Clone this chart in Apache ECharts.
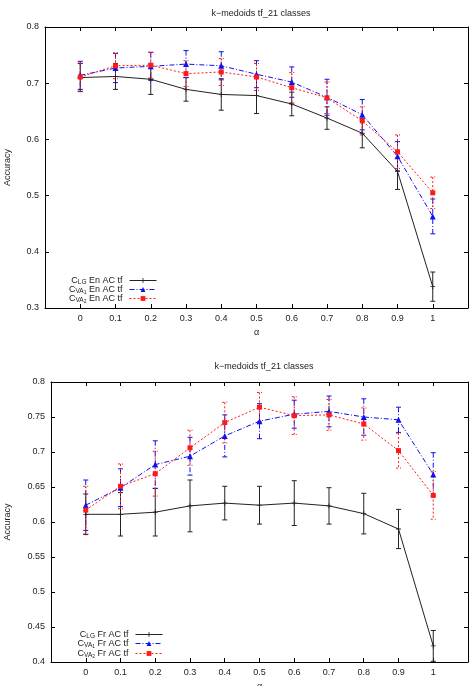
<!DOCTYPE html>
<html>
<head>
<meta charset="utf-8">
<script src="https://cdn.jsdelivr.net/npm/echarts@6/dist/echarts.min.js"></script>
<style>
  html, body { margin: 0; padding: 0; background: #fff; }
  #chart { width: 470px; height: 686px; }
</style>
</head>
<body>
<div id="chart"></div>
<script>
var alpha = [0, 0.1, 0.2, 0.3, 0.4, 0.5, 0.6, 0.7, 0.8, 0.9, 1];

// top chart (En)
var enClg = [0.710, 0.712, 0.707, 0.689, 0.680, 0.678, 0.663, 0.638, 0.611, 0.543, 0.338];
var enClgErr = [0.025, 0.023, 0.027, 0.021, 0.028, 0.032, 0.021, 0.020, 0.026, 0.032, 0.026];
var enVa1 = [0.714, 0.727, 0.730, 0.734, 0.731, 0.716, 0.702, 0.675, 0.644, 0.570, 0.463];
var enVa1Err = [0.025, 0.026, 0.025, 0.024, 0.025, 0.024, 0.027, 0.032, 0.027, 0.026, 0.031];
var enVa2 = [0.711, 0.731, 0.732, 0.717, 0.720, 0.711, 0.692, 0.674, 0.633, 0.578, 0.505];
var enVa2Err = [0.025, 0.023, 0.023, 0.023, 0.024, 0.024, 0.027, 0.028, 0.025, 0.030, 0.028];

// bottom chart (Fr)
var frClg = [0.611, 0.611, 0.614, 0.623, 0.627, 0.624, 0.627, 0.623, 0.612, 0.590, 0.423];
var frClgErr = [0.029, 0.031, 0.034, 0.037, 0.024, 0.027, 0.032, 0.026, 0.029, 0.028, 0.022];
var frVa1 = [0.624, 0.649, 0.682, 0.694, 0.723, 0.744, 0.754, 0.758, 0.750, 0.746, 0.668];
var frVa1Err = [0.036, 0.027, 0.034, 0.027, 0.030, 0.025, 0.020, 0.022, 0.026, 0.018, 0.031];
var frVa2 = [0.617, 0.651, 0.669, 0.706, 0.742, 0.764, 0.752, 0.753, 0.740, 0.702, 0.638];
var frVa2Err = [0.034, 0.032, 0.032, 0.025, 0.029, 0.021, 0.027, 0.022, 0.023, 0.025, 0.034];

var topTicks = [0.3, 0.8, 0.1];
var botTicks = [0.4, 0.8, 0.05];

var FONT = '"Liberation Sans", Arial, sans-serif';
var BLACK = '#222';
var BLUE = '#1010ee';
var RED = '#ff1a1a';
var dashDot = [5, 2, 1, 2];
var dotted = [2, 2];
var plusPath = 'path://M-0.5,-3 L0.5,-3 L0.5,3 L-0.5,3 Z M-3,-0.5 L3,-0.5 L3,0.5 L-3,0.5 Z';

var chart = echarts.init(document.getElementById('chart'), null, { renderer: 'canvas' });

function pairs(vals) {
  return alpha.map(function (a, i) { return [a, vals[i]]; });
}
function bars(vals, errs) {
  return alpha.map(function (a, i) { return [a, vals[i] - errs[i], vals[i] + errs[i]]; });
}

function errRender(color, dash) {
  return function (params, api) {
    var x = api.value(0);
    var lo = api.coord([x, api.value(1)]);
    var hi = api.coord([x, api.value(2)]);
    var st = { stroke: color, lineWidth: 1, lineDash: dash };
    var w = 2.5;
    return {
      type: 'group',
      children: [
        { type: 'line', shape: { x1: hi[0], y1: hi[1], x2: lo[0], y2: lo[1] }, style: st },
        { type: 'line', shape: { x1: hi[0] - w, y1: hi[1], x2: hi[0] + w, y2: hi[1] }, style: st },
        { type: 'line', shape: { x1: lo[0] - w, y1: lo[1], x2: lo[0] + w, y2: lo[1] }, style: st }
      ]
    };
  };
}

function xAxes(grid) {
  var base = {
    gridIndex: grid, type: 'value', min: -0.1, max: 1.1, interval: 0.1,
    axisLine: { show: true, onZero: false, lineStyle: { color: '#000', width: 1 } },
    axisTick: { inside: true, length: 4, lineStyle: { color: '#000' } },
    splitLine: { show: false }
  };
  return [
    Object.assign({}, base, {
      position: 'bottom',
      name: 'α', nameLocation: 'middle', nameGap: 20,
      nameTextStyle: { fontFamily: FONT, fontSize: 9, color: BLACK },
      axisLabel: {
        fontFamily: FONT, fontSize: 9, color: BLACK, margin: 6,
        formatter: function (v) { return (v < -0.01 || v > 1.01) ? '' : String(+v.toFixed(1)); }
      }
    }),
    Object.assign({}, base, { position: 'top', axisLabel: { show: false } })
  ];
}

function yAxes(grid, t, gap) {
  var base = {
    gridIndex: grid, type: 'value', min: t[0], max: t[1], interval: t[2],
    axisLine: { show: true, onZero: false, lineStyle: { color: '#000', width: 1 } },
    axisTick: { show: true, inside: true, length: 4, lineStyle: { color: '#000' } },
    splitLine: { show: false }
  };
  return [
    Object.assign({}, base, {
      position: 'left',
      name: 'Accuracy', nameLocation: 'middle', nameGap: gap,
      nameTextStyle: { fontFamily: FONT, fontSize: 9, color: BLACK },
      axisLabel: {
        fontFamily: FONT, fontSize: 9, color: BLACK, margin: 6,
        formatter: function (v) { return String(+v.toFixed(2)); }
      }
    }),
    Object.assign({}, base, { position: 'right', axisLabel: { show: false } })
  ];
}

function lineSeries(name, vals, gi, color, dash, symbol, size) {
  return {
    name: name, type: 'line', xAxisIndex: gi * 2, yAxisIndex: gi * 2,
    data: pairs(vals), symbol: symbol, symbolSize: size,
    lineStyle: { color: color, width: 1, type: dash },
    itemStyle: { color: color },
    animation: false, z: 3
  };
}
function errSeries(vals, errs, gi, color, dash) {
  return {
    name: 'err', type: 'custom', xAxisIndex: gi * 2, yAxisIndex: gi * 2,
    data: bars(vals, errs), encode: { x: 0, y: [1, 2] },
    renderItem: errRender(color, dash), animation: false, z: 2, silent: true
  };
}

var rich = {
  c: { fontFamily: FONT, fontSize: 9, color: BLACK, lineHeight: 11 },
  s: { fontFamily: FONT, fontSize: 6.5, color: BLACK, lineHeight: 6, verticalAlign: 'bottom' },
  ss: { fontFamily: FONT, fontSize: 5, color: BLACK, lineHeight: 2, verticalAlign: 'bottom' }
};
var labelMap = {
  'CLG En AC tf': '{c|C}{s|LG}{c| En AC tf}',
  'CVA1 En AC tf': '{c|C}{s|VA}{ss|1}{c| En AC tf}',
  'CVA2 En AC tf': '{c|C}{s|VA}{ss|2}{c| En AC tf}',
  'CLG Fr AC tf': '{c|C}{s|LG}{c| Fr AC tf}',
  'CVA1 Fr AC tf': '{c|C}{s|VA}{ss|1}{c| Fr AC tf}',
  'CVA2 Fr AC tf': '{c|C}{s|VA}{ss|2}{c| Fr AC tf}'
};
function legendItem(name, right, top) {
  return {
    data: [name], right: right, top: top, orient: 'vertical', align: 'right',
    itemWidth: 27, itemHeight: 6, itemGap: 0, padding: 0,
    selectedMode: false,
    lineStyle: { width: 1 },
    formatter: function (n) { return labelMap[n]; },
    textStyle: { rich: rich, padding: [0, 2, 0, 0] }
  };
}

option = {
  backgroundColor: '#fff',
  animation: false,
  title: [
    { text: 'k−medoids tf_21 classes', left: 256, top: 4, textAlign: 'center',
      textStyle: { fontFamily: FONT, fontSize: 9, fontWeight: 'normal', color: BLACK } },
    { text: 'k−medoids tf_21 classes', left: 259, top: 357, textAlign: 'center',
      textStyle: { fontFamily: FONT, fontSize: 9, fontWeight: 'normal', color: BLACK } }
  ],
  grid: [
    { left: 45, top: 27, right: 2, height: 281, outerBoundsMode: 'none' },
    { left: 51, top: 382, right: 2, height: 280, outerBoundsMode: 'none' }
  ],
  xAxis: xAxes(0).concat(xAxes(1)),
  yAxis: yAxes(0, topTicks, 33).concat(yAxes(1, botTicks, 39)),
  legend: [
    legendItem('CLG En AC tf', 313, 276),
    legendItem('CVA1 En AC tf', 313, 285),
    legendItem('CVA2 En AC tf', 313, 294),
    legendItem('CLG Fr AC tf', 307, 630),
    legendItem('CVA1 Fr AC tf', 307, 639),
    legendItem('CVA2 Fr AC tf', 307, 649)
  ],
  series: [
    errSeries(enClg, enClgErr, 0, BLACK, null),
    errSeries(enVa1, enVa1Err, 0, BLUE, dashDot),
    errSeries(enVa2, enVa2Err, 0, RED, dotted),
    lineSeries('CLG En AC tf', enClg, 0, BLACK, 'solid', plusPath, 5),
    lineSeries('CVA1 En AC tf', enVa1, 0, BLUE, dashDot, 'triangle', 6),
    lineSeries('CVA2 En AC tf', enVa2, 0, RED, dotted, 'rect', 5),
    errSeries(frClg, frClgErr, 1, BLACK, null),
    errSeries(frVa1, frVa1Err, 1, BLUE, dashDot),
    errSeries(frVa2, frVa2Err, 1, RED, dotted),
    lineSeries('CLG Fr AC tf', frClg, 1, BLACK, 'solid', plusPath, 5),
    lineSeries('CVA1 Fr AC tf', frVa1, 1, BLUE, dashDot, 'triangle', 6),
    lineSeries('CVA2 Fr AC tf', frVa2, 1, RED, dotted, 'rect', 5)
  ]
};

chart.setOption(option);
</script>
</body>
</html>
